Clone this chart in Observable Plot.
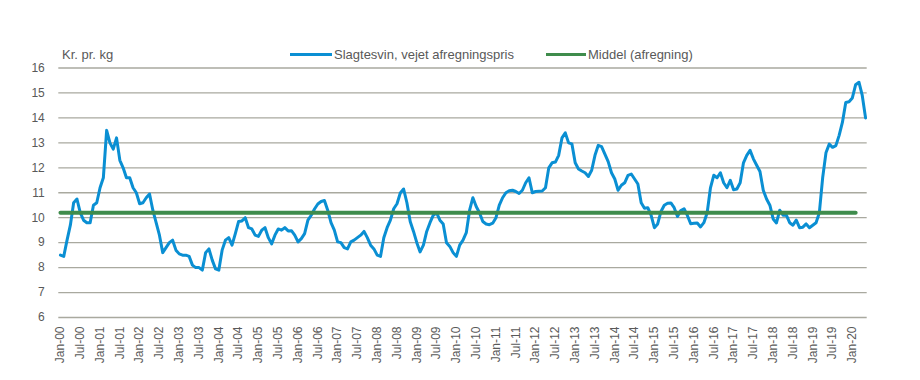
<!DOCTYPE html>
<html>
<head>
<meta charset="utf-8">
<script src="https://cdn.jsdelivr.net/npm/d3@7"></script>
<script src="https://cdn.jsdelivr.net/npm/@observablehq/plot@0.6"></script>
<style>
  html, body { margin: 0; padding: 0; background: #fff; }
  body { font-family: "Liberation Sans", Arial, sans-serif; color: #595959; }
  #wrap { width: 920px; }
  #head { position: relative; width: 920px; height: 62px; font-size: 13px; }
  #head .t { position: absolute; top: 47px; line-height: 16px; white-space: nowrap; }
  #head .sw { position: absolute; top: 53px; height: 3px; }
</style>
</head>
<body>
<div id="wrap">
  <div id="head">
    <span class="t" style="left:62px">Kr. pr. kg</span>
    <span class="sw" id="sw1" style="left:290px;width:42px"></span>
    <span class="t" id="lab1" style="left:334px"></span>
    <span class="sw" id="sw2" style="left:546px;width:40px"></span>
    <span class="t" id="lab2" style="left:588px"></span>
  </div>
  <div id="chart"></div>
</div>
<script>
// Monthly price, Jan-00 ... May-20 (kr. pr. kg)
const prices = [
  8.5, 8.45, 9.1, 9.7, 10.6, 10.75, 10.2, 9.9, 9.8, 9.8, 10.5, 10.6,          // 2000
  11.2, 11.6, 13.5, 13.0, 12.75, 13.2, 12.3, 12.0, 11.6, 11.6, 11.2, 11.0,    // 2001
  10.56, 10.6, 10.8, 10.95, 10.3, 9.8, 9.3, 8.6, 8.8, 9.0, 9.1, 8.7,          // 2002
  8.55, 8.5, 8.5, 8.45, 8.1, 8.0, 8.0, 7.9, 8.6, 8.75, 8.3, 7.95,             // 2003
  7.9, 8.7, 9.1, 9.2, 8.9, 9.36, 9.85, 9.87, 10.0, 9.6, 9.55, 9.3,            // 2004
  9.25, 9.5, 9.6, 9.2, 8.95, 9.3, 9.55, 9.5, 9.6, 9.47, 9.48, 9.3,            // 2005
  9.03, 9.16, 9.36, 9.9, 10.1, 10.35, 10.55, 10.65, 10.69, 10.3, 9.8, 9.5,    // 2006
  9.03, 9.0, 8.8, 8.75, 9.03, 9.1, 9.2, 9.3, 9.45, 9.2, 8.9, 8.75,            // 2007
  8.5, 8.45, 9.2, 9.6, 9.9, 10.36, 10.56, 10.99, 11.15, 10.6, 9.85, 9.45,     // 2008
  9.0, 8.63, 8.9, 9.45, 9.8, 10.1, 10.19, 9.9, 9.75, 9.0, 8.85, 8.6,          // 2009
  8.45, 8.9, 9.1, 9.4, 10.3, 10.8, 10.45, 10.2, 9.85, 9.75, 9.72, 9.78,       // 2010
  10.0, 10.5, 10.8, 11.0, 11.08, 11.1, 11.05, 10.97, 11.1, 11.4, 11.6, 11.0,  // 2011
  11.05, 11.06, 11.07, 11.2, 12.0, 12.2, 12.23, 12.5, 13.2, 13.4, 13.0, 12.96,// 2012
  12.2, 11.95, 11.87, 11.8, 11.65, 11.9, 12.5, 12.9, 12.85, 12.55, 12.25, 11.8,// 2013
  11.55, 11.1, 11.3, 11.4, 11.7, 11.75, 11.55, 11.35, 10.6, 10.38, 10.4, 10.1,// 2014
  9.6, 9.75, 10.25, 10.5, 10.58, 10.59, 10.4, 10.05, 10.29, 10.36, 10.09, 9.76,// 2015
  9.78, 9.79, 9.63, 9.8, 10.2, 11.2, 11.7, 11.6, 11.8, 11.4, 11.2, 11.5,      // 2016
  11.12, 11.15, 11.4, 12.2, 12.5, 12.7, 12.36, 12.1, 11.85, 11.1, 10.75, 10.5,// 2017
  9.95, 9.79, 10.3, 10.1, 10.1, 9.8, 9.7, 9.9, 9.6, 9.62, 9.75, 9.6,          // 2018
  9.7, 9.8, 10.2, 11.6, 12.6, 12.95, 12.82, 12.89, 13.3, 13.83, 14.62, 14.65, // 2019
  14.8, 15.33, 15.43, 14.9, 14.0                                              // 2020
];
const meanValue = 10.2;           // Middel (afregning)
const meanSpan = [0, 241];        // month index range of the mean line (Jan-00 .. Feb-20)
const tickLabels = [
  "Jan-00","Jul-00","Jan-01","Jul-01","Jan-02","Jul-02","Jan-03","Jul-03","Jan-04","Jul-04",
  "Jan-05","Jul-05","Jan-06","Jul-06","Jan-07","Jul-07","Jan-08","Jul-08","Jan-09","Jul-09",
  "Jan-10","Jul-10","Jan-11","Jul-11","Jan-12","Jul-12","Jan-13","Jul-13","Jan-14","Jul-14",
  "Jan-15","Jul-15","Jan-16","Jul-16","Jan-17","Jul-17","Jan-18","Jul-18","Jan-19","Jul-19","Jan-20"
];
const yTicks = [6, 7, 8, 9, 10, 11, 12, 13, 14, 15, 16];
const seriesNames = ["Slagtesvin, vejet afregningspris", "Middel (afregning)"];
const colors = ["#0a8fd3", "#3f8c4c"];

document.getElementById("lab1").textContent = seriesNames[0];
document.getElementById("lab2").textContent = seriesNames[1];
document.getElementById("sw1").style.background = colors[0];
document.getElementById("sw2").style.background = colors[1];

const data = prices.map((v, i) => ({ i, v }));
const meanData = meanSpan.map(i => ({ i, v: meanValue }));
const tickPos = tickLabels.map((_, k) => k * 6);

const chart = Plot.plot({
  width: 920,
  height: 318,
  marginTop: 5.5,
  marginBottom: 63,
  marginLeft: 58.3,
  marginRight: 53.3,
  style: { fontFamily: "'Liberation Sans', Arial, sans-serif", fontSize: "12px", color: "#595959", background: "#fff" },
  x: { type: "linear", domain: [-0.5, prices.length - 0.5], axis: null, label: null },
  y: { domain: [6, 16], axis: null, label: null },
  marks: [
    Plot.gridY(yTicks, { stroke: "#a9a99f", strokeOpacity: 1, strokeWidth: 1.3 }),
    Plot.axisY(yTicks, { label: null, tickSize: 0, tickPadding: 14, fontSize: 12, fill: "#595959" }),
    Plot.axisX(tickPos, {
      label: null,
      tickFormat: d => tickLabels[d / 6],
      tickRotate: -90, tickSize: 0, tickPadding: 9, fontSize: 12, fill: "#595959"
    }),
    Plot.line(data, { x: "i", y: "v", stroke: colors[0], strokeWidth: 3, strokeLinejoin: "round" }),
    Plot.line(meanData, { x: "i", y: "v", stroke: colors[1], strokeWidth: 4 })
  ]
});
document.getElementById("chart").appendChild(chart);
</script>
</body>
</html>
